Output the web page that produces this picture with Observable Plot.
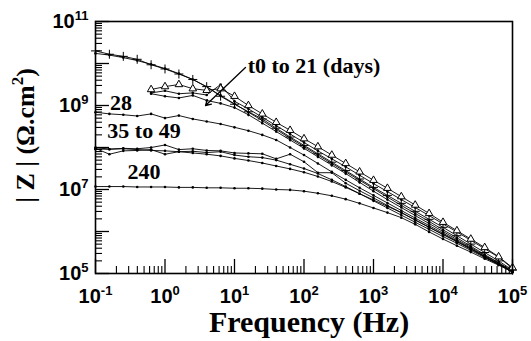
<!DOCTYPE html>
<html><head><meta charset="utf-8">
<script src="https://cdn.jsdelivr.net/npm/d3@7"></script>
<script src="https://cdn.jsdelivr.net/npm/@observablehq/plot@0.6"></script>
<style>body{margin:0;background:#fff}</style>
</head><body><div id="chart"></div>
<script>
// log10 of frequency (Hz) at each measured point
const logFreq = [-1,-0.8,-0.6,-0.4,-0.2,0,0.2,0.4,0.6,0.8,1,1.2,1.4,1.6,1.8,2,2.2,2.4,2.6,2.8,3,3.2,3.4,3.6,3.8,4,4.2,4.4,4.6,4.8,5];

// log10 |Z| values
const t0   = [10.30,10.22,10.17,10.10,9.97,9.87,9.75,9.62,9.45,9.22,9.03,8.85,8.68,8.46,8.25,8.05,7.85,7.65,7.45,7.25,7.05,6.86,6.67,6.48,6.29,6.10,5.90,5.70,5.50,5.30,5.08];
const t7   = [10.24,10.20,10.14,10.07,9.98,9.88,9.76,9.62,9.44,9.24,9.04,8.84,8.64,8.43,8.22,8.02,7.82,7.62,7.42,7.22,7.02,6.82,6.62,6.43,6.24,6.04,5.85,5.65,5.45,5.26,5.06];
const t14  = [9.38,9.45,9.50,9.40,9.36,9.40,9.22,9.00,8.80,8.60,8.41,8.21,8.02,7.82,7.62,7.42,7.22,7.03,6.83,6.63,6.43,6.22,6.02,5.82,5.62,5.40,5.14];
const t18  = [9.30,9.35,9.28,9.30,9.25,9.50,9.10,8.92,8.72,8.52,8.32,8.12,7.92,7.73,7.54,7.34,7.14,6.95,6.76,6.57,6.38,6.18,5.99,5.79,5.59,5.39,5.12];
const t21  = [9.28,9.22,9.18,9.24,9.12,9.05,8.95,8.78,8.58,8.38,8.18,7.98,7.78,7.58,7.38,7.17,6.96,6.76,6.57,6.38,6.19,6.00,5.81,5.62,5.43,5.25,5.05];
const d28  = [8.84,8.80,8.78,8.75,8.80,8.70,8.76,8.68,8.62,8.56,8.48,8.40,8.30,8.18,8.00,7.82,7.62,7.42,7.23,7.04,6.86,6.68,6.50,6.32,6.14,5.96,5.78,5.60,5.41,5.23,5.04];
const d35  = [8.00,7.96,7.98,7.97,8.00,8.06,7.95,7.97,7.93,7.92,7.87,7.86,7.85,7.73,7.84,7.66,7.40,7.40,7.15,6.97,6.80,6.62,6.45,6.27,6.10,5.93,5.76,5.58,5.40,5.22,5.04];
const d42  = [7.98,7.84,7.92,7.93,7.95,7.84,7.90,7.91,7.88,7.90,7.82,7.78,7.76,7.70,7.60,7.50,7.38,7.23,7.07,6.90,6.73,6.56,6.39,6.22,6.05,5.88,5.72,5.55,5.38,5.21,5.03];
const d49  = [7.96,7.96,7.97,7.95,7.93,7.92,7.90,7.87,7.84,7.80,7.74,7.69,7.63,7.56,7.49,7.41,7.31,7.19,7.05,6.90,6.75,6.60,6.45,6.28,6.10,5.93,5.76,5.58,5.40,5.22,5.04];
const d240 = [7.07,7.07,7.07,7.06,7.06,7.06,7.05,7.05,7.04,7.04,7.03,7.03,7.02,7.00,6.99,6.96,6.91,6.85,6.77,6.67,6.56,6.45,6.33,6.17,5.99,5.82,5.66,5.51,5.35,5.20,5.04];

// first log10 frequency of each series
const seriesNames = ["t0","t7","t14","t18","t21","28","35","42","49","240"];
const seriesValues = [t0,t7,t14,t18,t21,d28,d35,d42,d49,d240];
const seriesStart = [-1,-1,-0.2,-0.2,-0.2,-1,-1,-1,-1,-1];

// tick definitions
const xLabelExps = [-1,0,1,2,3,4,5];
const yMajorExps = [5,6,7,8,9,10,11];
const yLabelExps = [5,7,9,11];

const rows = seriesNames.flatMap((name, k) => {
  const off = logFreq.indexOf(seriesStart[k]);
  return seriesValues[k].map((v, i) => ({f: 10 ** logFreq[i + off], z: 10 ** v, s: name}));
});

const xMajor = xLabelExps.map(e => 10 ** e);
const xMinor = d3.range(-1, 5).flatMap(e => d3.range(2, 10).map(m => m * 10 ** e));
const yMajor = yMajorExps.map(e => 10 ** e);
const yMinor = d3.range(5, 11).flatMap(e => d3.range(2, 10).map(m => m * 10 ** e));

const W = 531, H = 341, mL = 95, mR = 19, mT = 21, mB = 68;
const pw = W - mL - mR, ph = H - mT - mB;
const serif = "Liberation Serif, Times New Roman, serif";
const sans = "Liberation Sans, Arial, sans-serif";

const plusSeries = new Set(["t0"]);
const triSeries = new Set(["t14"]);

const annotations = [
  {text: "t0 to 21 (days)", lf: 1.19, lz: 9.94},
  {text: "28", lf: -0.79, lz: 9.05},
  {text: "35 to 49", lf: -0.83, lz: 8.39},
  {text: "240", lf: -0.54, lz: 7.41}
];

const chart = Plot.plot({
  width: W, height: H,
  marginLeft: mL, marginRight: mR, marginTop: mT, marginBottom: mB,
  style: {background: "white", color: "black"},
  x: {type: "log", domain: [0.1, 1e5], axis: null},
  y: {type: "log", domain: [1e5, 1e11], axis: null},
  marks: [
    Plot.tickX(xMinor, {x: d => d, insetTop: ph - 7, stroke: "black", strokeWidth: 1.1}),
    Plot.tickX(xMajor, {x: d => d, insetTop: ph - 14, stroke: "black", strokeWidth: 1.3}),
    Plot.tickY(yMinor, {y: d => d, insetRight: pw - 7, stroke: "black", strokeWidth: 1.1}),
    Plot.tickY(yMajor, {y: d => d, insetRight: pw - 14, stroke: "black", strokeWidth: 1.3}),
    Plot.axisX({ticks: xMajor, tickSize: 0, tickPadding: 15, label: null,
      tickFormat: d => `10^{${Math.round(Math.log10(d))}}`}),
    Plot.axisY({ticks: yLabelExps.map(e => 10 ** e), tickSize: 0, tickPadding: 7, label: null,
      tickFormat: d => `10^{${Math.round(Math.log10(d))}}`}),
    Plot.line(rows, {x: "f", y: "z", z: "s", stroke: "black", strokeWidth: 0.9}),
    Plot.dot(rows.filter(d => !plusSeries.has(d.s) && !triSeries.has(d.s)), {x: "f", y: "z", r: 1.3, fill: "black"}),
    Plot.dot(rows.filter(d => plusSeries.has(d.s)), {x: "f", y: "z", symbol: "plus", r: 3, stroke: "black", strokeWidth: 1}),
    Plot.dot(rows.filter(d => triSeries.has(d.s)), {x: "f", y: "z", symbol: "triangle", r: 2.8, stroke: "black", fill: "white", strokeWidth: 1}),
    Plot.frame({stroke: "black", strokeWidth: 1.6}),
    Plot.text(annotations, {x: d => 10 ** d.lf, y: d => 10 ** d.lz, text: "text", textAnchor: "start", lineAnchor: "middle",
      fontSize: 22, fontWeight: "bold", fontFamily: serif, fill: "black"}),
    Plot.arrow([0], {x1: 10 ** 1.158, y1: 10 ** 9.905, x2: 10 ** 0.583, y2: 10 ** 9.0,
      stroke: "black", strokeWidth: 1.3, headLength: 7}),
    Plot.text(["Frequency (Hz)"], {text: d => d, frameAnchor: "bottom", textAnchor: "middle", lineAnchor: "middle", dx: 5, dy: 49,
      fontSize: 30, fontWeight: "bold", fontFamily: serif, fill: "black"}),
    Plot.text(["| Z | (Ω.cm^{2})"], {text: d => d, frameAnchor: "left", textAnchor: "middle", rotate: -90, lineAnchor: "middle", dx: -70, dy: -12,
      fontSize: 26, fontWeight: "bold", fontFamily: serif, fill: "black"})
  ]
});

document.getElementById("chart").appendChild(chart);

// tick labels: bold sans, large
d3.select(chart).selectAll('g[aria-label$="tick label"]')
  .attr("font-size", 20).attr("font-weight", "bold").attr("font-family", sans)
  .style("font-size", "20px").style("font-variant", "normal");

// turn "base^{sup}rest" into real superscript tspans
d3.select(chart).selectAll("text").each(function () {
  const t = this.textContent;
  const m = t.match(/^(.*)\^\{([^}]*)\}(.*)$/);
  if (!m) return;
  const fs = parseFloat(getComputedStyle(this).fontSize) || 20;
  const shift = Math.round(fs * 0.42);
  const sel = d3.select(this);
  sel.text(null);
  sel.append("tspan").text(m[1]);
  sel.append("tspan").attr("dy", -shift).style("font-size", Math.round(fs * 0.64) + "px").text(m[2]);
  if (m[3]) sel.append("tspan").attr("dy", shift).text(m[3]);
});
</script>
</body></html>
